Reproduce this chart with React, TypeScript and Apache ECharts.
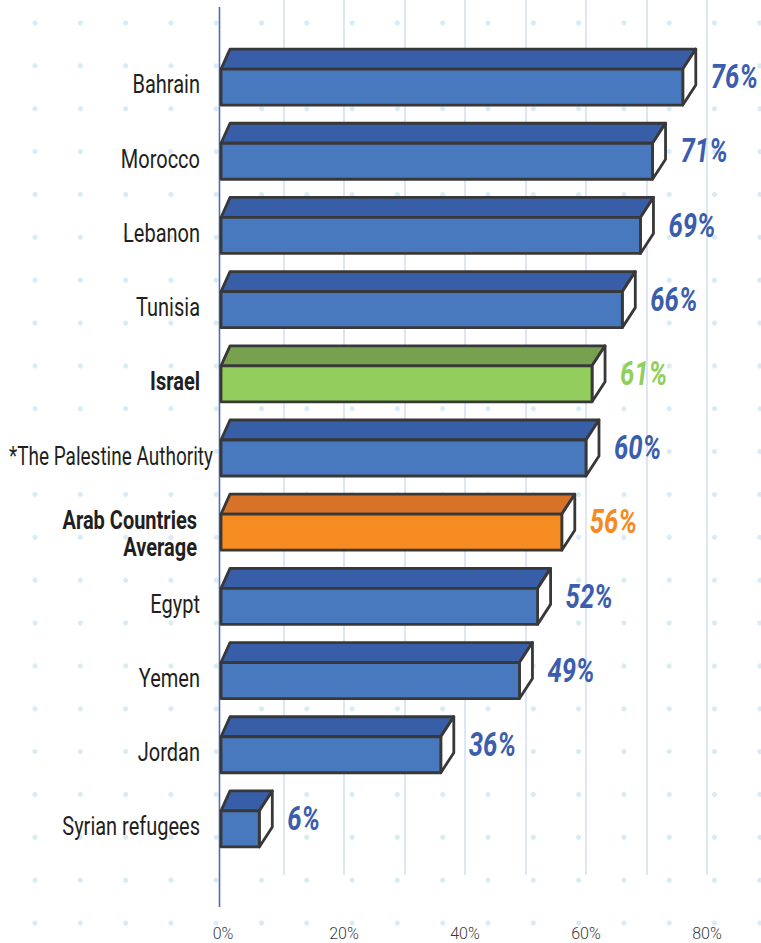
import React, { useEffect, useRef } from "react";
import * as echarts from "echarts";

// ---- data ----
const categories: string[] = [
  "Bahrain",
  "Morocco",
  "Lebanon",
  "Tunisia",
  "Israel",
  "*The Palestine Authority",
  "Arab Countries\nAverage",
  "Egypt",
  "Yemen",
  "Jordan",
  "Syrian refugees",
];
const values: number[] = [76, 71, 69, 66, 61, 60, 56, 52, 49, 36, 6];
const kinds: string[] = ["blue", "blue", "blue", "blue", "green", "blue", "orange", "blue", "blue", "blue", "blue"];
const boldCategories: string[] = ["Israel", "Arab Countries\nAverage"];
const tickLabels: number[] = [0, 20, 40, 60, 80];

// ---- styles ----
const palette: Record<string, { front: string; top: string; label: string }> = {
  blue: { front: "#4878be", top: "#385ea8", label: "#3a5ead" },
  green: { front: "#92cd5e", top: "#77a14e", label: "#8fcf5b" },
  orange: { front: "#f68b21", top: "#d87228", label: "#f48a20" },
};
const FONT = "Roboto, 'Noto Sans', sans-serif";
const W = 761;
const H = 943;
const GRID_LEFT = 223;
const X_MAX = 90;
const PX_PER_UNIT = 6.05;

export default function App() {
  const ref = useRef<HTMLDivElement>(null);

  useEffect(() => {
    if (!ref.current) return;
    const chart = echarts.init(ref.current, undefined, { renderer: "svg", width: W, height: H });

    // background dot grid (decoration)
    const deco: any[] = [];
    for (let j = 0; j <= 21; j++) {
      for (let k = 0; k <= 16; k++) {
        deco.push({
          type: "circle",
          silent: true,
          z: 0,
          shape: { cx: 35 + 45.3 * k, cy: 23 + 42.86 * j, r: 2.6 },
          style: { fill: "#d9ecf5" },
        });
      }
    }
    deco.push({
      type: "line",
      silent: true,
      z: 1,
      shape: { x1: 219.5, y1: 7, x2: 219.5, y2: 907 },
      style: { stroke: "#4a6db5", lineWidth: 1.6 },
    });

    const gridWidth = X_MAX * PX_PER_UNIT;
    const splitColors = ["rgba(0,0,0,0)"];
    for (let i = 0; i < 10; i++) splitColors.push("#d6e0f0");

    const renderItem = (params: any, api: any) => {
      const i = params.dataIndex;
      const v = api.value(0);
      const idx = api.value(1);
      const p0 = api.coord([0, idx]);
      const p1 = api.coord([v, idx]);
      const cy = p0[1];
      const fh = 36;
      const th = 20;
      const dxL = 9;
      const dxR = 13;
      const ft = cy - fh / 2;
      const fb = cy + fh / 2;
      const xs = p0[0] - 2;
      const xe = p1[0];
      const c = palette[kinds[i]];
      const stroke = { stroke: "#383838", lineWidth: 2.8, lineJoin: "round" };
      const cat = categories[i];
      const bold = boldCategories.indexOf(cat) >= 0;
      const multiLine = cat.indexOf("\n") >= 0;
      const longLabel = !multiLine && cat.length > 20;
      return {
        type: "group",
        children: [
          {
            type: "polygon",
            shape: { points: [[xs, ft], [xs + dxL, ft - th], [xe + dxR, ft - th], [xe, ft]] },
            style: { fill: c.top, ...stroke },
          },
          {
            type: "polygon",
            shape: { points: [[xe, ft], [xe + dxR, ft - th], [xe + dxR, fb - th], [xe, fb]] },
            style: { fill: "#ffffff", ...stroke },
          },
          {
            type: "rect",
            shape: { x: xs, y: ft, width: xe - xs, height: fh },
            style: { fill: c.front, ...stroke },
          },
          {
            type: "text",
            x: xe + dxR + 15,
            y: cy - 10,
            scaleX: 0.78,
            style: {
              x: 0,
              y: 0,
              text: `${v}%`,
              fill: c.label,
              fontSize: 33,
              fontWeight: "bold",
              fontStyle: "italic",
              fontFamily: FONT,
              align: "left",
              verticalAlign: "middle",
            },
          },
          {
            type: "text",
            x: p0[0] - (longLabel ? 10 : multiLine ? 26 : 23),
            y: cy + (multiLine ? 2 : -2),
            scaleX: longLabel ? 0.76 : 0.8,
            style: {
              x: 0,
              y: 0,
              text: cat,
              fill: "#231f20",
              fontSize: 25,
              lineHeight: 27,
              fontWeight: bold ? "bold" : "normal",
              fontFamily: FONT,
              align: "right",
              verticalAlign: "middle",
            },
          },
        ],
      };
    };

    const option: any = {
      animation: false,
      backgroundColor: "#ffffff",
      graphic: { elements: deco },
      grid: [
        { left: GRID_LEFT, width: gridWidth, top: 50, height: 816, containLabel: false, outerBoundsMode: "none" },
        { left: GRID_LEFT, width: gridWidth, top: 0, height: 875, containLabel: false, outerBoundsMode: "none" },
      ],
      xAxis: [
        { gridIndex: 0, type: "value", min: 0, max: X_MAX, show: false },
        {
          gridIndex: 1,
          type: "value",
          min: 0,
          max: X_MAX,
          interval: 10,
          axisLine: { show: false },
          axisTick: { show: false },
          splitLine: { show: true, lineStyle: { color: splitColors, width: 1.6 } },
          axisLabel: {
            margin: 50,
            fontSize: 16,
            fontWeight: 300,
            fontFamily: FONT,
            color: "#3a3a3a",
            formatter: (val: number) => (tickLabels.indexOf(val) >= 0 ? `${val}%` : ""),
          },
        },
      ],
      yAxis: [
        {
          gridIndex: 0,
          type: "category",
          inverse: true,
          data: categories,
          axisLine: { show: false },
          axisTick: { show: false },
          splitLine: { show: false },
          axisLabel: { show: false },
        },
        { gridIndex: 1, type: "value", show: false },
      ],
      series: [
        {
          type: "custom",
          xAxisIndex: 0,
          yAxisIndex: 0,
          z: 3,
          renderItem,
          encode: { x: 0, y: 1 },
          data: values.map((v, i) => [v, i]),
        },
      ],
    };

    chart.setOption(option);
    return () => chart.dispose();
  }, []);

  return <div ref={ref} style={{ position: "absolute", left: 0, top: 0, width: W, height: H }} />;
}
